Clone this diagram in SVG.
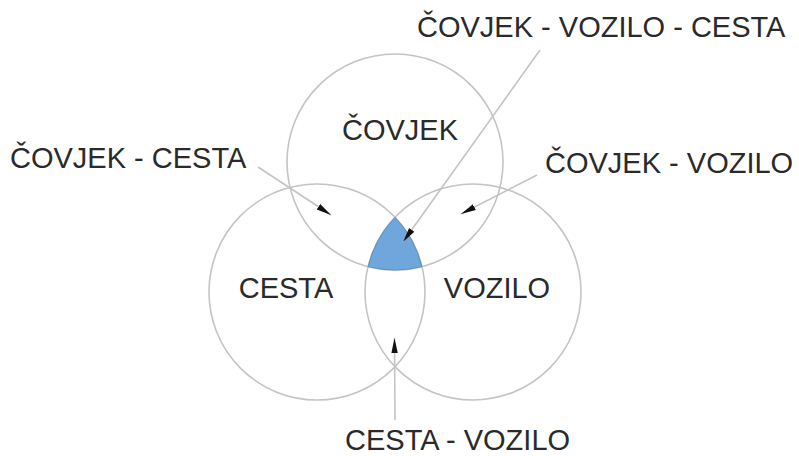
<svg xmlns="http://www.w3.org/2000/svg" width="799" height="456" viewBox="0 0 799 456">
<defs>
<marker id="arr" markerUnits="userSpaceOnUse" markerWidth="16" markerHeight="10" refX="15" refY="4" orient="auto">
<path d="M0,0.8 L15,4 L0,7.2 Z" fill="#111"/>
</marker>
<style>
.c{fill:none;stroke:#c4c4c4;stroke-width:1.6}
.l{fill:none;stroke:#c4c4c4;stroke-width:1.6;marker-end:url(#arr)}
.t{font-family:"Liberation Sans",Arial,sans-serif;font-size:29px;fill:#2a2a2a}
</style>
</defs>
<rect width="799" height="456" fill="#fff"/>
<g id="node-covjek">
<circle class="c" cx="395" cy="162" r="108"/>
<text class="t" x="400" y="140" text-anchor="middle">ČOVJEK</text>
</g>
<g id="node-cesta">
<circle class="c" cx="317" cy="292" r="108"/>
<text class="t" x="286" y="298" text-anchor="middle">CESTA</text>
</g>
<g id="node-vozilo">
<circle class="c" cx="473" cy="292" r="108"/>
<text class="t" x="497" y="298" text-anchor="middle">VOZILO</text>
</g>
<g id="node-triple">
<path d="M395,217.3 A108,108 0 0 0 368.1,266.6 A108,108 0 0 0 421.9,266.6 A108,108 0 0 0 395,217.3 Z" fill="#6fa7dc" stroke="#5a8fc4" stroke-width="1"/>
</g>
<g id="labels">
<text class="t" x="417" y="37">ČOVJEK - VOZILO - CESTA</text>
<text class="t" x="10" y="168">ČOVJEK - CESTA</text>
<text class="t" x="545" y="173">ČOVJEK - VOZILO</text>
<text class="t" x="345" y="450">CESTA - VOZILO</text>
</g>
<g id="connectors">
<line class="l" x1="540" y1="50" x2="403" y2="242"/>
<line class="l" x1="258" y1="167" x2="331" y2="215"/>
<line class="l" x1="537" y1="175" x2="461" y2="214"/>
<line class="l" x1="395" y1="420" x2="394.5" y2="338"/>
</g>
</svg>
